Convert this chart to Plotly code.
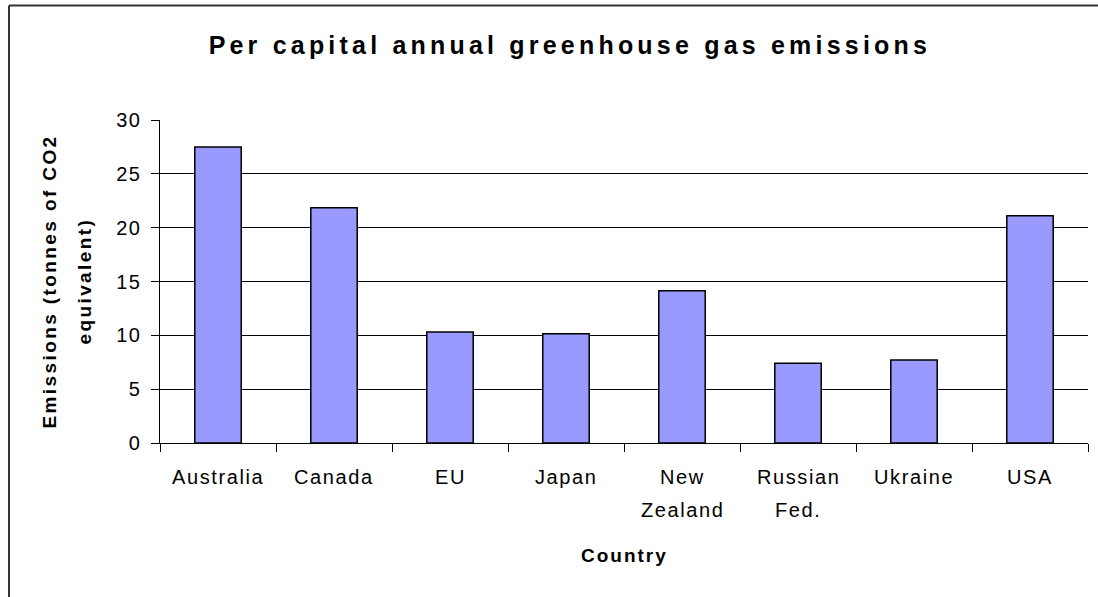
import plotly.graph_objects as go

categories = ["Australia", "Canada", "EU", "Japan", "New Zealand", "Russian Fed.", "Ukraine", "USA"]
label_line1 = ["Australia", "Canada", "EU", "Japan", "New", "Russian", "Ukraine", "USA"]
label_line2 = ["", "", "", "", "Zealand", "Fed.", "", ""]
emissions = [27.5, 21.85, 10.3, 10.15, 14.15, 7.4, 7.7, 21.1]
y_ticks = [0, 5, 10, 15, 20, 25, 30]

title_text = "Per capital annual greenhouse gas emissions"
ytitle_lines = ["Emissions (tonnes of CO2", "equivalent)"]
xtitle_text = "Country"

FONT = "Liberation Sans, Arial, sans-serif"


def ls(text, px):
    return f'<span style="letter-spacing:{px}px">{text}</span>'


fig = go.Figure()
fig.add_trace(go.Bar(
    x=categories,
    y=emissions,
    width=0.4,
    marker=dict(color="#9999FF", line=dict(color="#000000", width=1.5)),
    showlegend=False,
))

annotations = []
for cat, l1, l2 in zip(categories, label_line1, label_line2):
    annotations.append(dict(x=cat, xref="x", y=0, yref="paper", yshift=-34,
                            text=ls(l1, 1.6), showarrow=False, yanchor="middle",
                            font=dict(family=FONT, size=20, color="#000")))
    if l2:
        annotations.append(dict(x=cat, xref="x", y=0, yref="paper", yshift=-67,
                                text=ls(l2, 1.6), showarrow=False, yanchor="middle",
                                font=dict(family=FONT, size=20, color="#000")))

annotations.append(dict(x=0.5, xref="paper", y=0, yref="paper", yshift=-112,
                        text="<b>" + ls(xtitle_text, 2) + "</b>", showarrow=False,
                        yanchor="middle", font=dict(family=FONT, size=19, color="#000")))
for shift, line in zip([-111, -76], ytitle_lines):
    annotations.append(dict(x=0, xref="paper", xshift=shift, y=0.5, yref="paper",
                            text="<b>" + ls(line, 2.4) + "</b>", showarrow=False,
                            textangle=-90, xanchor="center", yanchor="middle",
                            font=dict(family=FONT, size=19, color="#000")))

# frame: left and top edges of the chart-area border (right/bottom lie outside the view)
xl = -151 / 928
yt = (443 - 5.5) / 323
xr = (1098 - 160) / 928
yb = -154 / 323
fig.update_layout(
    width=1098, height=597,
    margin=dict(l=160, r=10, t=120, b=154),
    paper_bgcolor="white", plot_bgcolor="white",
    title=dict(text="<b>" + ls(title_text, 4.2) + "</b>", x=0.519, xref="container", xanchor="center",
               y=1 - 45 / 597, yref="container", yanchor="middle",
               font=dict(family=FONT, size=25, color="#000")),
    font=dict(family=FONT, size=20, color="#000"),
    bargap=0.6,
    annotations=annotations,
    shapes=[dict(type="line", xref="paper", yref="paper", x0=xl, x1=xl, y0=yb, y1=yt,
                 line=dict(color="#333333", width=2)),
            dict(type="line", xref="paper", yref="paper", x0=xl, x1=xr, y0=yt, y1=yt,
                 line=dict(color="#333333", width=2))],
)
fig.update_xaxes(
    type="category", showgrid=False, showline=True, linecolor="#000", linewidth=1,
    ticks="outside", tickson="boundaries", ticklen=8, tickcolor="#000", tickwidth=1,
    showticklabels=False, range=[-0.5, 7.5],
)
fig.update_yaxes(
    range=[0, 30], tickvals=y_ticks, ticktext=[ls(str(v), 1.2) for v in y_ticks],
    showgrid=True, gridcolor="#000", gridwidth=1, showline=True, linecolor="#000", linewidth=1,
    ticks="outside", ticklen=8, tickcolor="#000", ticklabelstandoff=6, zeroline=False,
    tickfont=dict(family=FONT, size=20, color="#000"),
)

fig.write_html("out.html")
